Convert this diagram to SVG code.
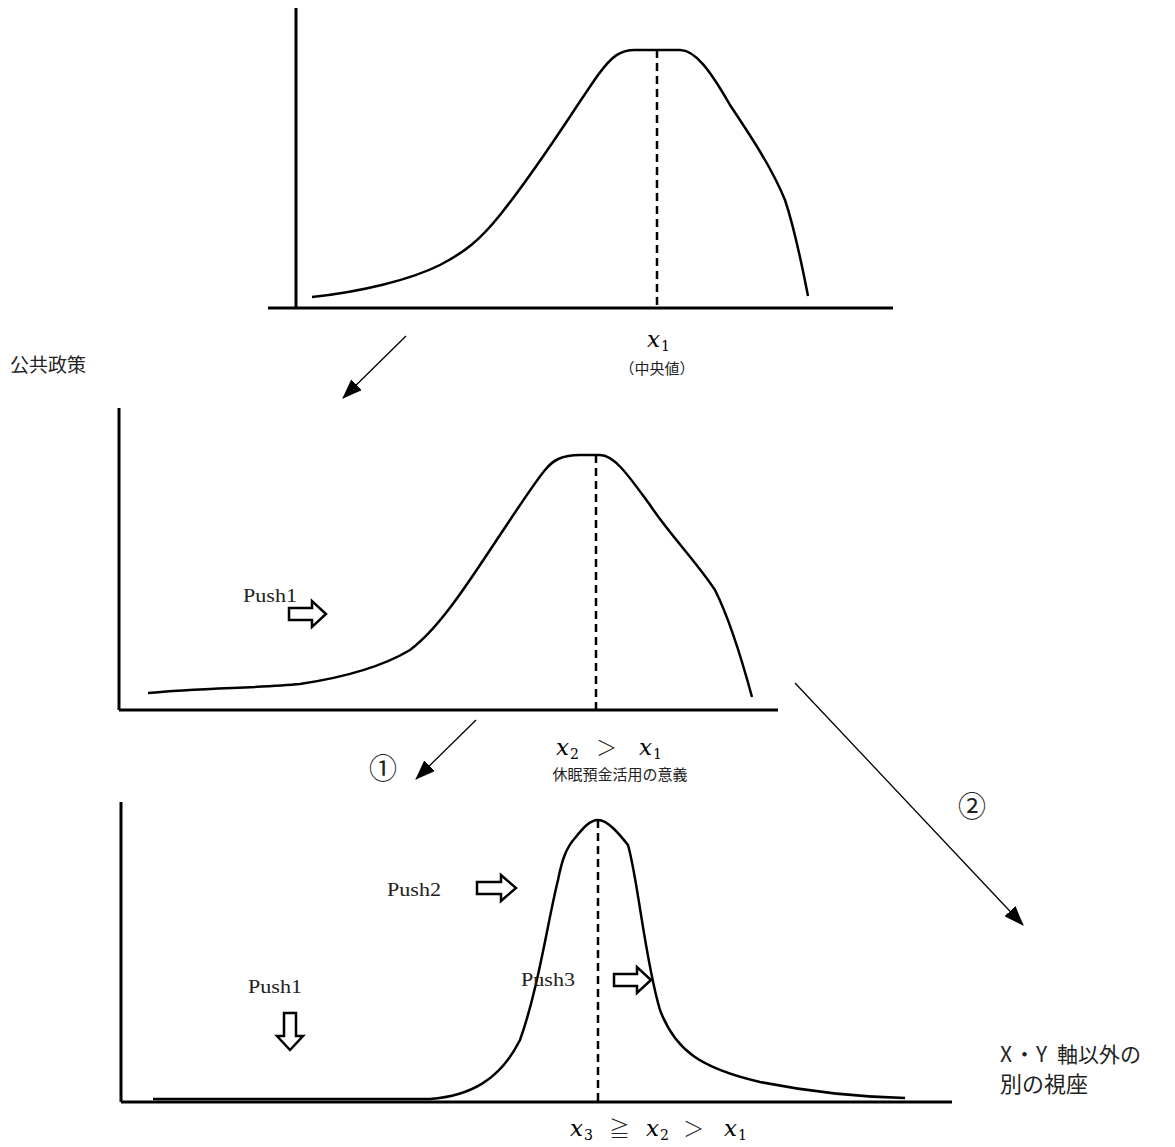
<svg xmlns="http://www.w3.org/2000/svg" width="1175" height="1147" viewBox="0 0 1175 1147">
<style>
.ax{stroke:#000;stroke-width:3;fill:none}
.cv{stroke:#000;stroke-width:2.5;fill:none}
.ds{stroke:#000;stroke-width:2.5;stroke-dasharray:8,5;fill:none}
.cn{stroke:#000;stroke-width:1.3;fill:none}
.ho{stroke:#000;stroke-width:2.5;fill:#fff;stroke-linejoin:miter}
.t{font-family:"Liberation Serif","Noto Sans CJK JP",serif;fill:#222}
.j{font-family:"Noto Sans CJK JP",sans-serif;fill:#222}
.m{font-family:"DejaVu Serif","Liberation Serif",serif;font-style:italic;fill:#000;font-size:23px}
.s{font-family:"DejaVu Serif","Liberation Serif",serif;font-style:normal;fill:#000;font-size:14px}
.op{font-family:"Noto Sans CJK JP",sans-serif;fill:#222;font-size:21px;font-weight:300}
</style>
<defs>
<marker id="ah" viewBox="0 0 20 15" refX="19" refY="7.5" markerWidth="20" markerHeight="15" markerUnits="userSpaceOnUse" orient="auto">
<path d="M0,0 L20,7.5 L0,15 z" fill="#000"/>
</marker>
</defs>
<g id="chart1">
<path class="ax" d="M296,8 V308 M268,308 H893"/>
<path class="cv" d="M312,297 C360,292 410,280 440,265 C465,252 480,240 500,215 C540,165 570,115 598,75 C612,56 620,50 635,50 H680 C695,50 710,70 730,105 C750,135 772,168 785,200 C795,230 802,265 808,296"/>
<path class="ds" d="M657,50 V308"/>
<text class="m" x="647" y="347">x</text><text class="s" x="661" y="351">1</text>
<text class="j" x="657" y="374" font-size="15" text-anchor="middle">（中央値）</text>
</g>
<g id="label-policy">
<text class="j" x="10" y="372" font-size="19">公共政策</text>
</g>
<g id="chart2">
<path class="ax" d="M119,408 V710 M119,710 H778"/>
<path class="cv" d="M148,693 C200,688 260,688 300,684 C340,678 380,668 410,650 C440,628 470,580 500,535 C520,505 535,482 545,470 C553,460 562,455 580,455 H600 C615,455 630,478 650,505 C670,535 695,560 715,590 C730,620 742,660 752,697"/>
<path class="ds" d="M596,455 V710"/>
<text class="t" x="243" y="602" font-size="19" textLength="54" lengthAdjust="spacingAndGlyphs">Push1</text>
<path class="ho" d="M289,608 H312 V601 L326,614 L312,627 V620 H289 Z"/>
<text class="m" x="556" y="755">x</text><text class="s" x="570" y="759">2</text>
<text class="op" x="596" y="755">＞</text>
<text class="m" x="639" y="755">x</text><text class="s" x="653" y="759">1</text>
<text class="j" x="620" y="780" font-size="15" text-anchor="middle">休眠預金活用の意義</text>
</g>
<g id="chart3">
<path class="ax" d="M121,802 V1102 M121,1102 H952"/>
<path class="cv" d="M153,1099 H430 C470,1096 500,1080 520,1040 C538,990 548,920 558,880 C562,860 566,848 575,838 C583,828 590,820 598,820 C608,820 620,835 628,845 C638,880 645,960 660,1010 C675,1050 700,1068 760,1082 C810,1092 860,1097 905,1098"/>
<path class="ds" d="M598,820 V1102"/>
<text class="t" x="387" y="896" font-size="19" textLength="54" lengthAdjust="spacingAndGlyphs">Push2</text>
<path class="ho" d="M477,882 H501 V875 L516,888 L501,901 V894 H477 Z"/>
<text class="t" x="248" y="993" font-size="19" textLength="54" lengthAdjust="spacingAndGlyphs">Push1</text>
<path class="ho" d="M284,1013 H296 V1036 H303 L290,1050 L277,1036 H284 Z"/>
<text class="t" x="521" y="986" font-size="19" textLength="54" lengthAdjust="spacingAndGlyphs">Push3</text>
<path class="ho" d="M614,974 H637 V967 L651,980 L637,993 V986 H614 Z"/>
<text class="m" x="570" y="1136">x</text><text class="s" x="584" y="1140">3</text>
<text class="op" x="609" y="1136">≧</text>
<text class="m" x="646" y="1136">x</text><text class="s" x="660" y="1140">2</text>
<text class="op" x="683" y="1136">＞</text>
<text class="m" x="724" y="1136">x</text><text class="s" x="738" y="1140">1</text>
</g>
<g id="label-other">
<text class="j" x="1000" y="1062" font-size="21"><tspan>X</tspan><tspan x="1014">・</tspan><tspan x="1036">Y</tspan><tspan x="1057">軸以外の</tspan></text>
<text class="j" x="1000" y="1092" font-size="22">別の視座</text>
</g>
<g id="connectors">
<line class="cn" x1="406" y1="336" x2="343" y2="398" marker-end="url(#ah)"/>
<line class="cn" x1="476" y1="720" x2="416" y2="779" marker-end="url(#ah)"/>
<line class="cn" x1="795" y1="683" x2="1023" y2="925" marker-end="url(#ah)"/>
<text class="t" x="383" y="779" font-size="28" text-anchor="middle">①</text>
<text class="t" x="972" y="817" font-size="28" text-anchor="middle">②</text>
</g>
</svg>
